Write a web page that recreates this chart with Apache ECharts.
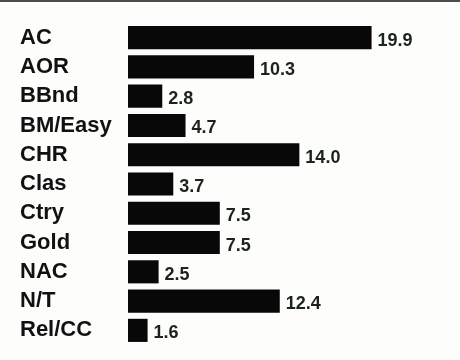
<!DOCTYPE html>
<html>
<head>
<meta charset="utf-8">
<script src="https://cdn.jsdelivr.net/npm/echarts@6/dist/echarts.min.js"></script>
<style>
  html, body { margin: 0; padding: 0; background: #fdfdfb; }
  #chart { width: 460px; height: 360px; }
</style>
</head>
<body>
<div id="chart"></div>
<script>
// radio formats and their share
const formats = ["AC", "AOR", "BBnd", "BM/Easy", "CHR", "Clas", "Ctry", "Gold", "NAC", "N/T", "Rel/CC"];
const shares = [19.9, 10.3, 2.8, 4.7, 14.0, 3.7, 7.5, 7.5, 2.5, 12.4, 1.6];

const chart = echarts.init(document.getElementById("chart"));
chart.setOption({
  backgroundColor: "#fdfdfb",
  animation: false,
  graphic: [
    {
      type: "rect",
      shape: { x: 0, y: 0, width: 460, height: 2 },
      style: { fill: "#4a4f48" },
    },
  ],
  grid: {
    left: 128,
    right: 26,
    top: 23,
    bottom: 15,
  },
  xAxis: {
    type: "value",
    min: 0,
    max: 25,
    show: false,
  },
  yAxis: {
    type: "category",
    inverse: true,
    data: formats,
    axisLine: { show: false },
    axisTick: { show: false },
    axisLabel: {
      align: "left",
      margin: 108,
      color: "#111",
      fontFamily: "Liberation Sans",
      fontWeight: "bold",
      fontSize: 22,
    },
  },
  series: [
    {
      type: "bar",
      data: shares,
      barCategoryGap: "21%",
      itemStyle: { color: "#080808" },
      label: {
        show: true,
        position: "right",
        distance: 6,
        offset: [0, 3],
        color: "#1a241a",
        fontFamily: "Liberation Sans",
        fontWeight: "bold",
        fontSize: 18,
        formatter: (p) => p.value.toFixed(1),
      },
    },
  ],
});
</script>
</body>
</html>
